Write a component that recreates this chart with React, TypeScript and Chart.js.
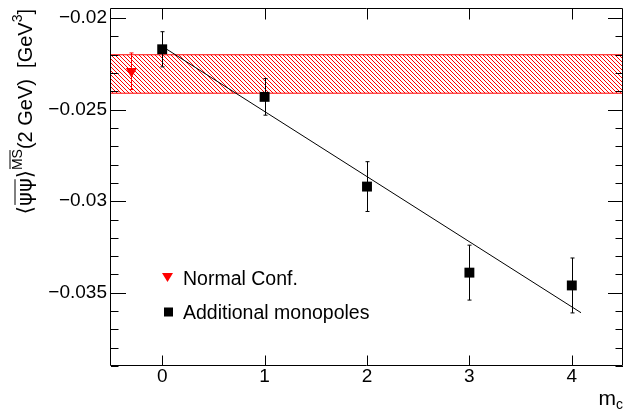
import React, { useEffect, useRef } from 'react';
import { Chart, registerables } from 'chart.js';

Chart.register(...registerables);

// ---- data ----
const mcValues = [0, 1, 2, 3, 4];
const monopoleValues = [-0.0217, -0.0243, -0.0292, -0.0339, -0.0346];
const monopoleErrors = [0.00096, 0.001, 0.00136, 0.0015, 0.0015];
const normalX = [-0.3];
const normalValues = [-0.0229];
const normalErrors = [0.001];
const bandX = [-0.5, 4.5];
const bandTop = -0.022;
const bandBottom = -0.0241;
const fitX = [0, 4.09];
const fitY = [-0.02154, -0.03609];
const xTicks = [0, 1, 2, 3, 4];
const yTicks = [-0.035, -0.03, -0.025, -0.02];
const yMinorTicks = [-0.039, -0.038, -0.037, -0.036, -0.034, -0.033, -0.032, -0.031, -0.029, -0.028, -0.027, -0.026, -0.024, -0.023, -0.022, -0.021];
const legendLabels = ['Normal Conf.', 'Additional monopoles'];
const X_MIN = -0.5;
const X_MAX = 4.5;
const Y_MIN = -0.039;
const Y_MAX = -0.0195;

// frame box (layout)
const FRAME = { left: 111, top: 9, right: 623, bottom: 366 };

const FONT = '"Liberation Sans", Arial, Helvetica, sans-serif';
const SYM = '"DejaVu Sans", "Liberation Sans", sans-serif';

const fmt = (v: number) => (v < 0 ? '\u2212' + String(Math.abs(v)) : String(v));

export default function App() {
  const ref = useRef<HTMLCanvasElement>(null);

  useEffect(() => {
    const canvas = ref.current!;
    const pc = document.createElement('canvas');
    pc.width = 4;
    pc.height = 4;
    const p = pc.getContext('2d')!;
    p.strokeStyle = '#ff0000';
    p.lineWidth = 1;
    p.beginPath();
    for (const k of [-4, 0, 4]) {
      p.moveTo(k, 0);
      p.lineTo(k + 4, 4);
    }
    p.stroke();
    const pattern = canvas.getContext('2d')!.createPattern(pc, 'repeat')!;

    const layoutPlugin = {
      id: 'fixLayout',
      afterLayout(chart: any) {
        const ca = chart.chartArea;
        ca.left = FRAME.left;
        ca.right = FRAME.right;
        ca.top = FRAME.top;
        ca.bottom = FRAME.bottom;
        ca.width = FRAME.right - FRAME.left;
        ca.height = FRAME.bottom - FRAME.top;
        const xs = chart.scales.x;
        xs.left = FRAME.left;
        xs.right = FRAME.right;
        xs.width = FRAME.right - FRAME.left;
        xs.top = FRAME.bottom;
        xs.bottom = 412;
        xs.height = 412 - FRAME.bottom;
        xs.configure();
        const ys = chart.scales.y;
        ys.top = FRAME.top;
        ys.bottom = FRAME.bottom;
        ys.height = FRAME.bottom - FRAME.top;
        ys.left = 0;
        ys.right = FRAME.left;
        ys.width = FRAME.left;
        ys.configure();
      },
    };

    const decorPlugin = {
      id: 'decor',
      afterDatasetsDraw(chart: any) {
        const ctx = chart.ctx;
        const xs = chart.scales.x;
        const ys = chart.scales.y;
        const drawErr = (xv: number[], yv: number[], ev: number[], color: string) => {
          ctx.save();
          ctx.strokeStyle = color;
          ctx.lineWidth = 1;
          xv.forEach((x, i) => {
            const px = Math.round(xs.getPixelForValue(x)) + 0.5;
            const t = ys.getPixelForValue(yv[i] + ev[i]);
            const b = ys.getPixelForValue(yv[i] - ev[i]);
            ctx.beginPath();
            ctx.moveTo(px, t);
            ctx.lineTo(px, b);
            ctx.moveTo(px - 2, t);
            ctx.lineTo(px + 2, t);
            ctx.moveTo(px - 2, b);
            ctx.lineTo(px + 2, b);
            ctx.stroke();
          });
          ctx.restore();
        };
        drawErr(normalX, normalValues, normalErrors, '#ff0000');
        drawErr(mcValues, monopoleValues, monopoleErrors, '#000000');
      },
      afterDraw(chart: any) {
        const ctx = chart.ctx;
        const { left, right, top, bottom } = chart.chartArea;
        const xs = chart.scales.x;
        const ys = chart.scales.y;
        ctx.save();
        ctx.strokeStyle = '#000';
        ctx.lineWidth = 1;
        ctx.beginPath();
        ctx.rect(left - 0.5, top - 0.5, right - left, bottom - top);
        ctx.stroke();
        ctx.beginPath();
        const majY = 15;
        const minY = 7.5;
        yTicks.forEach((v) => {
          const py = Math.round(ys.getPixelForValue(v)) + 0.5;
          ctx.moveTo(left, py);
          ctx.lineTo(left + majY, py);
          ctx.moveTo(right, py);
          ctx.lineTo(right - majY, py);
        });
        yMinorTicks.forEach((v) => {
          const py = Math.round(ys.getPixelForValue(v)) + 0.5;
          ctx.moveTo(left, py);
          ctx.lineTo(left + minY, py);
          ctx.moveTo(right, py);
          ctx.lineTo(right - minY, py);
        });
        const majX = 10.5;
        xTicks.forEach((v) => {
          const px = Math.round(xs.getPixelForValue(v)) + 0.5;
          ctx.moveTo(px, bottom);
          ctx.lineTo(px, bottom - majX);
          ctx.moveTo(px, top);
          ctx.lineTo(px, top + majX);
        });
        ctx.stroke();

        // legend
        ctx.fillStyle = '#ff0000';
        ctx.beginPath();
        ctx.moveTo(162, 273);
        ctx.lineTo(173, 273);
        ctx.lineTo(167.5, 282);
        ctx.closePath();
        ctx.fill();
        ctx.fillStyle = '#000';
        ctx.fillRect(164, 307.5, 9, 9);
        ctx.font = '19.5px ' + FONT;
        ctx.textAlign = 'left';
        ctx.textBaseline = 'alphabetic';
        ctx.fillText(legendLabels[0], 183, 284.5);
        ctx.fillText(legendLabels[1], 183, 319);

        // x title m_c
        ctx.textAlign = 'right';
        ctx.font = '14px ' + FONT;
        const cw = ctx.measureText('c').width;
        ctx.fillText('c', right, 409);
        ctx.font = '21px ' + FONT;
        ctx.fillText('m', right - cw, 405);

        // y title
        ctx.translate(32, top);
        ctx.rotate(-Math.PI / 2);
        ctx.textAlign = 'left';
        const big = '20px ' + FONT;
        const small = '14px ' + FONT;
        const pieces: { t: string; f: string; dy: number; bar?: number }[] = [
          { t: '\u27E8', f: '21px ' + SYM, dy: 0 },
          { t: '\u03C8\u03C8', f: '21px ' + SYM, dy: 0, bar: -17 },
          { t: '\u27E9', f: '21px ' + SYM, dy: 0 },
          { t: 'MS', f: small, dy: -10, bar: -22 },
          { t: '(2 GeV)  [GeV', f: big, dy: 0 },
          { t: '3', f: small, dy: -10 },
          { t: ']', f: big, dy: 0 },
        ];
        let total = 0;
        const widths = pieces.map((pc2) => {
          ctx.font = pc2.f;
          const w = ctx.measureText(pc2.t).width;
          total += w;
          return w;
        });
        let u = -total;
        pieces.forEach((pc2, i) => {
          ctx.font = pc2.f;
          ctx.fillText(pc2.t, u, pc2.dy);
          if (pc2.bar !== undefined) {
            ctx.beginPath();
            ctx.lineWidth = 1;
            ctx.moveTo(u + 1, pc2.bar);
            ctx.lineTo(u + widths[i] - 1, pc2.bar);
            ctx.stroke();
          }
          u += widths[i];
        });
        ctx.restore();
      },
    };

    const chart = new Chart(canvas, {
      type: 'line',
      data: {
        datasets: [
          {
            data: bandX.map((x) => ({ x, y: bandTop })),
            showLine: true,
            borderColor: '#ff0000',
            borderWidth: 1,
            pointRadius: 0,
            fill: '+1',
            backgroundColor: pattern,
            order: 10,
          },
          {
            data: bandX.map((x) => ({ x, y: bandBottom })),
            showLine: true,
            borderColor: '#ff0000',
            borderWidth: 1,
            pointRadius: 0,
            fill: false,
            order: 10,
          },
          {
            data: fitX.map((x, i) => ({ x, y: fitY[i] })),
            showLine: true,
            borderColor: '#000000',
            borderWidth: 1,
            pointRadius: 0,
            fill: false,
            order: 5,
          },
          {
            data: normalX.map((x, i) => ({ x, y: normalValues[i] })),
            showLine: false,
            pointStyle: 'triangle',
            rotation: 180,
            pointRadius: 6.5,
            backgroundColor: '#ff0000',
            borderColor: '#ff0000',
            borderWidth: 0,
            order: 1,
          },
          {
            data: mcValues.map((x, i) => ({ x, y: monopoleValues[i] })),
            showLine: false,
            pointStyle: 'rect',
            pointRadius: 7,
            backgroundColor: '#000000',
            borderColor: '#000000',
            borderWidth: 0,
            order: 1,
          },
        ],
      } as any,
      options: {
        animation: false,
        responsive: false,
        devicePixelRatio: 1,
        events: [],
        layout: { padding: { left: 0, right: 2, top: 9, bottom: 0 } },
        plugins: { legend: { display: false }, tooltip: { enabled: false } },
        scales: {
          x: {
            type: 'linear',
            min: X_MIN,
            max: X_MAX,
            grid: { display: false, drawTicks: false },
            border: { display: false },
            afterBuildTicks: (s: any) => {
              s.ticks = xTicks.map((v) => ({ value: v }));
            },
            afterFit: (s: any) => {
              s.height = 46;
              s.paddingLeft = 0;
              s.paddingRight = 0;
              s.paddingTop = 0;
              s.paddingBottom = 0;
            },
            ticks: {
              color: '#000',
              font: { family: FONT, size: 19 },
              padding: -1,
              maxRotation: 0,
              autoSkip: false,
              callback: (v: any) => fmt(Number(v)),
            },
          },
          y: {
            type: 'linear',
            min: Y_MIN,
            max: Y_MAX,
            grid: { display: false, drawTicks: false },
            border: { display: false },
            afterBuildTicks: (s: any) => {
              s.ticks = yTicks.map((v) => ({ value: v }));
            },
            afterFit: (s: any) => {
              s.width = 111;
              s.paddingLeft = 0;
              s.paddingRight = 0;
              s.paddingTop = 0;
              s.paddingBottom = 0;
            },
            ticks: {
              color: '#000',
              font: { family: FONT, size: 19 },
              padding: 4,
              autoSkip: false,
              callback: (v: any) => fmt(Number(v)),
            },
          },
        },
      } as any,
      plugins: [layoutPlugin, decorPlugin],
    });
    return () => chart.destroy();
  }, []);

  return (
    <div style={{ position: 'fixed', left: 0, top: 0, width: 625, height: 412, background: '#fff' }}>
      <canvas ref={ref} width={625} height={412} style={{ display: 'block' }} />
    </div>
  );
}
